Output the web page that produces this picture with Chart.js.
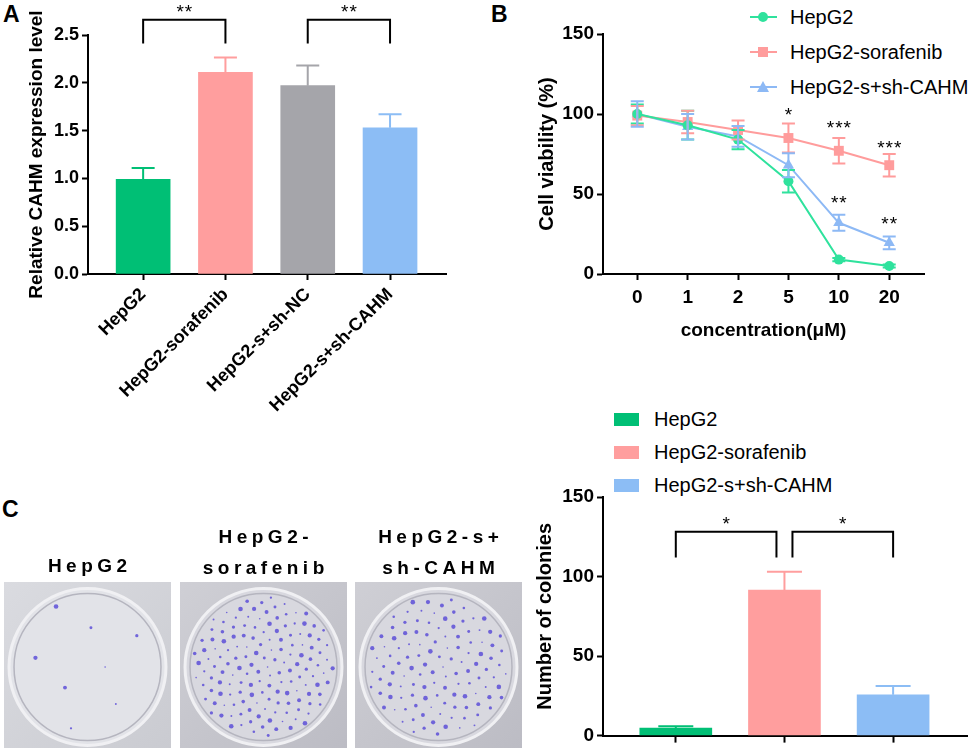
<!DOCTYPE html>
<html>
<head>
<meta charset="utf-8">
<title>CAHM and sorafenib resistance</title>
<script src="https://cdn.jsdelivr.net/npm/chart.js@4.4.0/dist/chart.umd.min.js"></script>
<style>
body { margin: 0; background: #fff; font-family: 'Liberation Sans', Arial, sans-serif; }
#fig { position: relative; width: 969px; height: 750px; overflow: hidden; }
#fig canvas { position: absolute; }
.panel { position: absolute; font-weight: bold; font-size: 23px; line-height: 23px; }
.legend { position: absolute; font-size: 20px; }
.legend .item { position: absolute; left: 0; height: 24px; line-height: 24px; white-space: nowrap; }
.legend .txt { position: absolute; left: 40px; top: 0; }
.plate-label { position: absolute; width: 167px; text-align: center; font-weight: bold; font-size: 19px;
  letter-spacing: 4.5px; padding-left: 4.5px; box-sizing: border-box; line-height: 31px; }
</style>
</head>
<body>
<div id="fig">
  <canvas id="plates" width="530" height="175" style="left:0;top:575px;z-index:0"></canvas>
  <canvas id="chartA" width="480" height="430" style="left:0;top:0;z-index:1"></canvas>
  <canvas id="chartB" width="489" height="360" style="left:480px;top:0;z-index:1"></canvas>
  <canvas id="chartC" width="489" height="370" style="left:480px;top:380px;z-index:1"></canvas>
  <div class="panel" style="left:3px;top:3px">A</div>
  <div class="panel" style="left:491px;top:3px">B</div>
  <div class="panel" style="left:2px;top:498px">C</div>
  <div id="legendB" class="legend" style="left:750px;top:5px"></div>
  <div id="legendC" class="legend" style="left:614px;top:407px"></div>
  <div id="plateLabels"></div>
</div>
<script>
// panel A: qPCR
const groupsA = ['HepG2', 'HepG2-sorafenib', 'HepG2-s+sh-NC', 'HepG2-s+sh-CAHM'];
const expressionA = [0.99, 2.11, 1.97, 1.53];
const expressionErrA = [0.12, 0.155, 0.21, 0.14];
const colorsA = ['#00BF75', '#FF9E9E', '#A5A5AA', '#8CBDF5'];
const sigPairsA = [[0, 1], [2, 3]];
const sigTextA = ['**', '**'];

// panel B: CCK-8 viability
const concLabels = ['0', '1', '2', '5', '10', '20'];
const seriesB = ['HepG2', 'HepG2-sorafenib', 'HepG2-s+sh-CAHM'];
const viabHepG2 = [100, 93, 84, 58, 9, 5];
const viabSora = [99, 95, 90, 85, 77, 68];
const viabShCahm = [100, 92, 86, 68, 32, 19.5];
const errHepG2 = [6, 9, 6, 7, 1, 1];
const errSora = [6, 7, 6, 9, 8, 7];
const errShCahm = [8, 8, 6.5, 7.5, 5, 4];
const colorsB = ['#2FE29D', '#FF9C9C', '#8DB9F5'];
const markersB = ['circle', 'rect', 'triangle'];
const starIdxB = [3, 4, 5, 4, 5];
const starLevelB = [102.5, 94.5, 82, 48, 34.5];
const starTextB = ['*', '***', '***', '**', '**'];

// panel C: colony formation
const groupsC = ['HepG2', 'HepG2-sorafenib', 'HepG2-s+sh-CAHM'];
const coloniesC = [4.8, 91.5, 25.7];
const coloniesErrC = [1, 11.5, 5.5];
const colorsC = ['#00BF75', '#FF9E9E', '#8CBDF5'];
const sigPairsC = [[0, 1], [1, 2]];
const sigTextC = ['*', '*'];
const plateTitles = [['HepG2'], ['HepG2-', 'sorafenib'], ['HepG2-s+', 'sh-CAHM']];

const FONT = "'Liberation Sans', Arial, sans-serif";
Chart.defaults.font.family = FONT;
Chart.defaults.color = '#000';

const errorBars = {
  id: 'errorBars',
  afterDatasetsDraw(chart, args, opts) {
    const ctx = chart.ctx;
    chart.data.datasets.forEach((ds, i) => {
      if (!ds.errors) return;
      const meta = chart.getDatasetMeta(i);
      const ys = chart.scales[meta.yAxisID];
      meta.data.forEach((el, j) => {
        const v = ds.data[j].y, e = ds.errors[j];
        const hi = ys.getPixelForValue(v + e);
        const lo = ys.getPixelForValue(opts.upOnly ? v : v - e);
        const half = opts.cap / 2;
        ctx.save();
        ctx.strokeStyle = Array.isArray(ds.errorColor) ? ds.errorColor[j] : ds.errorColor;
        ctx.lineWidth = 2;
        ctx.beginPath();
        ctx.moveTo(el.x, lo); ctx.lineTo(el.x, hi);
        ctx.moveTo(el.x - half, hi); ctx.lineTo(el.x + half, hi);
        if (!opts.upOnly) { ctx.moveTo(el.x - half, lo); ctx.lineTo(el.x + half, lo); }
        ctx.stroke();
        ctx.restore();
      });
    });
  }
};

function drawStars(ctx, text, cx, cy) {
  const size = 19;
  ctx.font = size + 'px ' + FONT;
  ctx.letterSpacing = '1px';
  ctx.textAlign = 'center';
  ctx.textBaseline = 'alphabetic';
  ctx.fillText(text, cx + 0.5, cy + size * 0.6);
}

const sigMarks = {
  id: 'sigMarks',
  afterDraw(chart, args, opts) {
    const {ctx, scales: {x, y}} = chart;
    ctx.save();
    ctx.strokeStyle = '#000';
    ctx.fillStyle = '#000';
    ctx.lineWidth = 2;
    const pairs = opts.pairs || [];
    const shared = idx => pairs.filter(p => p.includes(idx)).length > 1;
    pairs.forEach((p, k) => {
      let xa = x.getPixelForValue(p[0]);
      let xb = x.getPixelForValue(p[1]);
      if (shared(p[0])) xa += opts.inset;
      if (shared(p[1])) xb -= opts.inset;
      const yt = y.getPixelForValue(opts.top);
      const yl = y.getPixelForValue(opts.leg);
      ctx.beginPath();
      ctx.moveTo(xa, yl); ctx.lineTo(xa, yt); ctx.lineTo(xb, yt); ctx.lineTo(xb, yl);
      ctx.stroke();
      drawStars(ctx, opts.labels[k], (xa + xb) / 2, yt - 13);
    });
    (opts.idx || []).forEach((xi, k) => {
      drawStars(ctx, opts.text[k], x.getPixelForValue(xi), y.getPixelForValue(opts.level[k]));
    });
    ctx.restore();
  }
};

function axisLines(extra) {
  return Object.assign({
    grid: { drawOnChartArea: false, drawTicks: true, tickLength: 6, tickWidth: 2, tickColor: '#000', offset: false },
    border: { display: true, color: '#000', width: 2 }
  }, extra);
}

function indexAxis(labels, min, max, height, extra) {
  return axisLines(Object.assign({
    type: 'linear', min: min, max: max, offset: false,
    afterBuildTicks: s => { s.ticks = labels.map((l, i) => ({ value: i })); },
    afterFit: s => { s.height = height; }
  }, extra));
}

// ---- A ----
new Chart(document.getElementById('chartA'), {
  type: 'bar',
  data: {
    datasets: [{
      data: groupsA.map((g, i) => ({ x: i, y: expressionA[i] })),
      backgroundColor: colorsA,
      errorColor: colorsA,
      errors: expressionErrA,
      barThickness: 54,
      borderWidth: 0
    }]
  },
  options: {
    responsive: false,
    animation: false,
    layout: { padding: { left: 0, right: 34, top: 35, bottom: 0 } },
    plugins: {
      legend: { display: false },
      tooltip: { enabled: false },
      errorBars: { upOnly: true, cap: 23 },
      sigMarks: { pairs: sigPairsA, labels: sigTextA, top: 2.66, leg: 2.41, inset: 0 }
    },
    scales: {
      x: indexAxis(groupsA, -0.67, 3.68, 156, {
        ticks: { callback: v => groupsA[v], font: { size: 18, weight: 'bold' },
                 minRotation: 45, maxRotation: 45, autoSkip: false, padding: 4 }
      }),
      y: axisLines({
        min: 0, max: 2.5,
        afterFit: s => { s.width = 88; },
        ticks: { stepSize: 0.5, callback: v => v.toFixed(1), font: { size: 18, weight: 'bold' }, padding: 3 },
        title: { display: true, text: 'Relative CAHM expression level',
                 font: { size: 19, weight: 'bold' }, padding: { top: 25, bottom: 0 } }
      })
    }
  },
  plugins: [errorBars, sigMarks]
});

// ---- B ----
const viabB = [viabHepG2, viabSora, viabShCahm];
const errB = [errHepG2, errSora, errShCahm];
const radiusB = [5, 7, 6.5];
new Chart(document.getElementById('chartB'), {
  type: 'line',
  data: {
    datasets: seriesB.map((name, s) => ({
      label: name,
      data: concLabels.map((c, i) => ({ x: i, y: viabB[s][i] })),
      borderColor: colorsB[s],
      backgroundColor: colorsB[s],
      errorColor: colorsB[s],
      errors: errB[s],
      borderWidth: 2,
      pointStyle: markersB[s],
      pointRadius: radiusB[s],
      pointBorderWidth: 0,
      tension: 0
    }))
  },
  options: {
    responsive: false,
    animation: false,
    layout: { padding: { left: 0, right: 45, top: 34, bottom: 0 } },
    plugins: {
      legend: { display: false },
      tooltip: { enabled: false },
      errorBars: { upOnly: false, cap: 13 },
      sigMarks: { idx: starIdxB, level: starLevelB, text: starTextB }
    },
    scales: {
      x: indexAxis(concLabels, -0.68, 5.69, 86, {
        ticks: { callback: v => concLabels[v], font: { size: 19, weight: 'bold' }, padding: 6, maxRotation: 0 },
        title: { display: true, text: 'concentration(μM)', font: { size: 19, weight: 'bold' },
                 padding: { top: 0, bottom: 18 } }
      }),
      y: axisLines({
        min: 0, max: 150,
        afterFit: s => { s.width = 123; },
        ticks: { stepSize: 50, font: { size: 19, weight: 'bold' }, padding: 3 },
        title: { display: true, text: 'Cell viability (%)', font: { size: 20, weight: 'bold' },
                 padding: { top: 55, bottom: 0 } }
      })
    }
  },
  plugins: [errorBars, sigMarks]
});

// ---- C ----
new Chart(document.getElementById('chartC'), {
  type: 'bar',
  data: {
    datasets: [{
      data: groupsC.map((g, i) => ({ x: i, y: coloniesC[i] })),
      backgroundColor: colorsC,
      errorColor: colorsC,
      errors: coloniesErrC,
      barThickness: 72,
      borderWidth: 0
    }]
  },
  options: {
    responsive: false,
    animation: false,
    layout: { padding: { left: 0, right: 2, top: 117, bottom: 0 } },
    plugins: {
      legend: { display: false },
      tooltip: { enabled: false },
      errorBars: { upOnly: true, cap: 35 },
      sigMarks: { pairs: sigPairsC, labels: sigTextC, top: 128.2, leg: 112, inset: 8 }
    },
    scales: {
      x: indexAxis(groupsC, -0.67, 2.68, 12, {
        ticks: { display: false },
        grid: { drawOnChartArea: false, drawTicks: true, tickLength: 7, tickWidth: 2, tickColor: '#000', offset: false }
      }),
      y: axisLines({
        min: 0, max: 150,
        afterFit: s => { s.width = 123; },
        ticks: { stepSize: 50, font: { size: 19, weight: 'bold' }, padding: 3 },
        title: { display: true, text: 'Number of colonies', font: { size: 20, weight: 'bold' },
                 padding: { top: 53, bottom: 0 } }
      })
    }
  },
  plugins: [errorBars, sigMarks]
});

// ---- legends ----
function markerHtml(style, color) {
  if (style === 'circle') return `<div style="position:absolute;left:8px;top:7px;width:10px;height:10px;border-radius:50%;background:${color}"></div>`;
  if (style === 'rect') return `<div style="position:absolute;left:8px;top:7px;width:10px;height:10px;background:${color}"></div>`;
  return `<div style="position:absolute;left:7px;top:6px;width:0;height:0;border-left:6px solid transparent;border-right:6px solid transparent;border-bottom:11px solid ${color}"></div>`;
}
document.getElementById('legendB').innerHTML = seriesB.map((name, s) =>
  `<div class="item" style="top:${s * 35}px;width:260px">
     <div style="position:absolute;left:0;top:11px;width:27px;height:2px;background:${colorsB[s]}"></div>
     ${markerHtml(markersB[s], colorsB[s])}
     <span class="txt">${name}</span></div>`).join('');
document.getElementById('legendC').innerHTML = groupsC.map((name, s) =>
  `<div class="item" style="top:${s * 33}px;width:260px">
     <div style="position:absolute;left:0;top:6px;width:25px;height:13px;background:${colorsC[s]}"></div>
     <span class="txt">${name}</span></div>`).join('');

// ---- colony plates (stand-in for photographs) ----
const plateLeft = [4, 180, 355];
const plateSpots = [8, 150, 120];
const pctx = document.getElementById('plates').getContext('2d');
plateLeft.forEach((x, p) => {
  const y = 7, w = 167, h = 166;
  const g = pctx.createLinearGradient(x, y, x + w, y + h);
  g.addColorStop(0, p === 0 ? '#DADBE0' : '#CFCFD5');
  g.addColorStop(1, p === 0 ? '#CACBD1' : '#BCBCC4');
  pctx.fillStyle = g;
  pctx.fillRect(x, y, w, h);
  const cx = x + w / 2, cy = y + h / 2 + 2, R = w * 0.47;
  pctx.beginPath(); pctx.arc(cx, cy, R, 0, Math.PI * 2);
  pctx.fillStyle = p === 0 ? '#E2E3E8' : '#D8D8DF'; pctx.fill();
  pctx.lineWidth = 3; pctx.strokeStyle = '#F0F0F3'; pctx.stroke();
  pctx.beginPath(); pctx.arc(cx, cy, R - 5, 0, Math.PI * 2);
  pctx.lineWidth = 1.5; pctx.strokeStyle = '#B5B5BF'; pctx.stroke();
  const n = plateSpots[p];
  for (let k = 0; k < n; k++) {
    const r = (R - 8) * Math.sqrt((k + 0.5) / n);
    const t = k * 2.39996;
    const s = 0.8 + ((k * 37) % 10) / 6;
    pctx.beginPath();
    pctx.arc(cx + r * Math.cos(t), cy + r * Math.sin(t), s, 0, Math.PI * 2);
    pctx.fillStyle = 'rgba(85,70,215,0.8)';
    pctx.fill();
  }
});
document.getElementById('plateLabels').innerHTML = plateTitles.map((lines, p) => {
  const top = lines.length === 1 ? 550 : 521;
  return `<div class="plate-label" style="left:${plateLeft[p]}px;top:${top}px">${lines.join('<br>')}</div>`;
}).join('');
</script>
</body>
</html>
